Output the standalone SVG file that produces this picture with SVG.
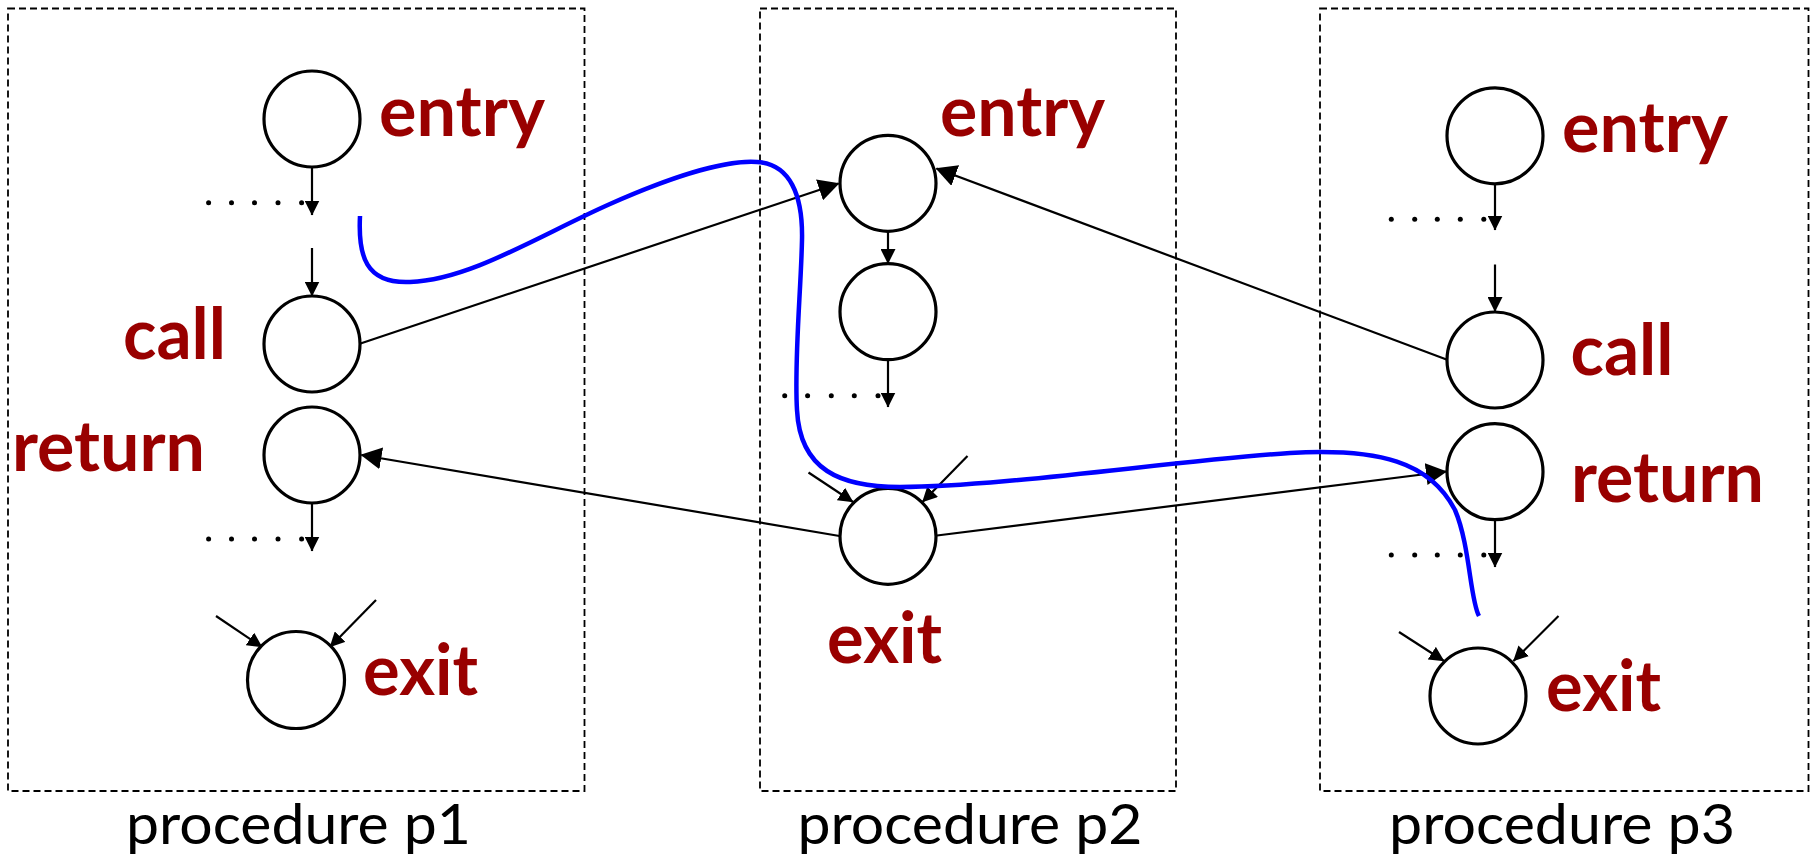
<svg xmlns="http://www.w3.org/2000/svg" width="1812" height="857" viewBox="0 0 1812 857">
<defs>
<marker id="big" markerUnits="userSpaceOnUse" markerWidth="21" markerHeight="22" refX="20" refY="11" orient="auto" viewBox="0 0 21 22"><path d="M0,0 L21,11 L0,22 z" fill="#000"/></marker>
<marker id="small" markerUnits="userSpaceOnUse" markerWidth="15" markerHeight="15" refX="14.5" refY="7.5" orient="auto" viewBox="0 0 15 15"><path d="M0,0 L15,7.5 L0,15 z" fill="#000"/></marker>
<style>
.box{fill:none;stroke:#000;stroke-width:1.8;stroke-dasharray:7 4}
.node{fill:#fff;stroke:#000;stroke-width:3.2}
.lbl{font-family:Lato,"Liberation Sans",sans-serif;font-weight:bold;font-size:70px;fill:#990000}
.proc{font-family:Lato,"Liberation Sans",sans-serif;font-size:57px;fill:#000}
.edge{stroke:#000;stroke-width:2.2;fill:none}
.sm{marker-end:url(#small)}
.bg{marker-end:url(#big)}
.dot{fill:#000}
.trace{fill:none;stroke:#0000ff;stroke-width:4.5;stroke-linecap:butt}
</style>
</defs>
<rect width="1812" height="857" fill="#fff"/>

<g id="proc-p1">
<rect class="box" x="8" y="8.5" width="576.5" height="782.5"/>
<text class="proc" x="126" y="844" textLength="345" lengthAdjust="spacingAndGlyphs">procedure p1</text>
</g>
<g id="proc-p2">
<rect class="box" x="760" y="8.5" width="416" height="782.5"/>
<text class="proc" x="797.5" y="844" textLength="345" lengthAdjust="spacingAndGlyphs">procedure p2</text>
</g>
<g id="proc-p3">
<rect class="box" x="1320" y="8.5" width="488.5" height="782.5"/>
<text class="proc" x="1389" y="844" textLength="346" lengthAdjust="spacingAndGlyphs">procedure p3</text>
</g>

<g id="connectors">
<line class="edge sm" x1="312" y1="167" x2="312" y2="215"/>
<line class="edge sm" x1="312" y1="248" x2="312" y2="296"/>
<line class="edge sm" x1="312" y1="503" x2="312" y2="551"/>
<line class="edge sm" x1="216" y1="616" x2="262" y2="647"/>
<line class="edge sm" x1="376" y1="600" x2="330" y2="647"/>
<line class="edge sm" x1="888" y1="231.5" x2="888" y2="263.5"/>
<line class="edge sm" x1="888" y1="360" x2="888" y2="407"/>
<line class="edge sm" x1="808.5" y1="472.5" x2="853" y2="502"/>
<line class="edge sm" x1="967.5" y1="456" x2="922.5" y2="502"/>
<line class="edge sm" x1="1495" y1="184" x2="1495" y2="230"/>
<line class="edge sm" x1="1495" y1="264.5" x2="1495" y2="311.5"/>
<line class="edge sm" x1="1495" y1="520" x2="1495" y2="567"/>
<line class="edge sm" x1="1399" y1="632" x2="1444" y2="661"/>
<line class="edge sm" x1="1558.5" y1="616" x2="1513.5" y2="661"/>
<line class="edge bg" x1="360.5" y1="343.5" x2="838.5" y2="183.5"/>
<line class="edge bg" x1="1446.5" y1="359.5" x2="936.5" y2="168.5"/>
<line class="edge bg" x1="839.5" y1="536" x2="361.5" y2="455"/>
<line class="edge bg" x1="937" y1="535.5" x2="1446" y2="471.5"/>
<g class="dot">
<circle cx="208.6" cy="202.7" r="2.5"/><circle cx="231.5" cy="202.7" r="2.5"/><circle cx="254.5" cy="202.7" r="2.5"/><circle cx="278" cy="202.7" r="2.5"/><circle cx="301.6" cy="202.7" r="2.5"/>
<circle cx="208.6" cy="539" r="2.5"/><circle cx="231.5" cy="539" r="2.5"/><circle cx="254.5" cy="539" r="2.5"/><circle cx="278" cy="539" r="2.5"/><circle cx="301.6" cy="539" r="2.5"/>
<circle cx="784.7" cy="395.7" r="2.5"/><circle cx="807.6" cy="395.7" r="2.5"/><circle cx="831.3" cy="395.7" r="2.5"/><circle cx="854.3" cy="395.7" r="2.5"/><circle cx="878" cy="395.7" r="2.5"/>
<circle cx="1391.3" cy="219.3" r="2.5"/><circle cx="1414.7" cy="219.3" r="2.5"/><circle cx="1437.3" cy="219.3" r="2.5"/><circle cx="1460.3" cy="219.3" r="2.5"/><circle cx="1483.8" cy="219.3" r="2.5"/>
<circle cx="1391.3" cy="555" r="2.5"/><circle cx="1414.7" cy="555" r="2.5"/><circle cx="1437.3" cy="555" r="2.5"/><circle cx="1460.3" cy="555" r="2.5"/><circle cx="1483.8" cy="555" r="2.5"/>
</g>
</g>

<g id="p1-entry"><circle class="node" cx="312" cy="119" r="48"/><text class="lbl" x="379" y="135.7" textLength="166" lengthAdjust="spacingAndGlyphs">entry</text></g>
<g id="p1-call"><circle class="node" cx="312" cy="344" r="48"/><text class="lbl" x="123" y="359" textLength="103" lengthAdjust="spacingAndGlyphs">call</text></g>
<g id="p1-return"><circle class="node" cx="312" cy="455" r="48"/><text class="lbl" x="12" y="470.7" textLength="193" lengthAdjust="spacingAndGlyphs">return</text></g>
<g id="p1-exit"><circle class="node" cx="296" cy="680" r="48.5"/><text class="lbl" x="363" y="695" textLength="115" lengthAdjust="spacingAndGlyphs">exit</text></g>

<g id="p2-entry"><circle class="node" cx="888" cy="183.3" r="48"/><text class="lbl" x="940" y="135.7" textLength="165" lengthAdjust="spacingAndGlyphs">entry</text></g>
<g id="p2-node"><circle class="node" cx="888" cy="311.7" r="48"/></g>
<g id="p2-exit"><circle class="node" cx="888" cy="536.3" r="48"/><text class="lbl" x="827" y="662.7" textLength="115" lengthAdjust="spacingAndGlyphs">exit</text></g>

<g id="p3-entry"><circle class="node" cx="1495" cy="135.8" r="48"/><text class="lbl" x="1562" y="151.7" textLength="166" lengthAdjust="spacingAndGlyphs">entry</text></g>
<g id="p3-call"><circle class="node" cx="1495" cy="360" r="48"/><text class="lbl" x="1570.5" y="375" textLength="103" lengthAdjust="spacingAndGlyphs">call</text></g>
<g id="p3-return"><circle class="node" cx="1495" cy="471.7" r="48"/><text class="lbl" x="1571" y="502.3" textLength="193" lengthAdjust="spacingAndGlyphs">return</text></g>
<g id="p3-exit"><circle class="node" cx="1478" cy="696" r="48"/><text class="lbl" x="1546" y="711" textLength="115" lengthAdjust="spacingAndGlyphs">exit</text></g>

<g id="trace">
<path class="trace" d="M360 216 C358 255,365 284,410 282 C470 280,540 235,610 204 C680 173,730 160,757 162 C790 164,803 195,802 240 C801 290,794 360,797 410 C800 470,840 487,900 487 C1000 487,1180 460,1290 453 C1380 448,1430 462,1455 510 C1470 545,1470 600,1479 616"/>
</g>
</svg>
